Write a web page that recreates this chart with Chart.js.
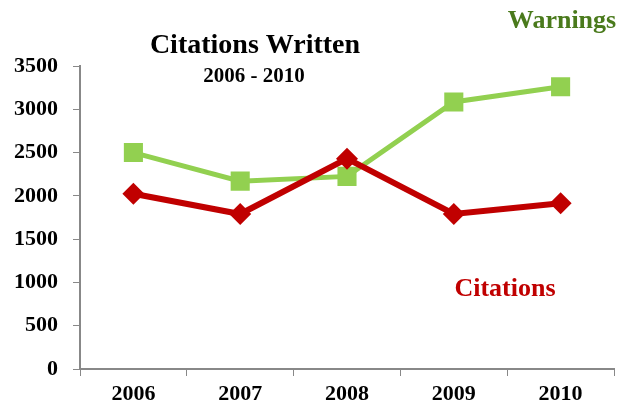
<!DOCTYPE html>
<html>
<head>
<meta charset="utf-8">
<script src="https://cdn.jsdelivr.net/npm/chart.js@4"></script>
<style>
  html, body { margin: 0; padding: 0; background: #fff; }
  #wrap { width: 617px; height: 414px; }
</style>
</head>
<body>
<div id="wrap"><canvas id="chart" width="617" height="414"></canvas></div>
<script>
// Data
const years = ['2006', '2007', '2008', '2009', '2010'];
const warnings = [2500, 2170, 2225, 3085, 3260];
const citations = [2025, 1790, 2430, 1790, 1915];

const FONT = '"Liberation Serif", "DejaVu Serif", serif';

// Free text labels (title, series names)
const labelsPlugin = {
    id: 'labels',
    afterDraw(chart) {
        const ctx = chart.ctx;
        ctx.save();
        ctx.textAlign = 'center';
        ctx.textBaseline = 'middle';
        ctx.fillStyle = '#000';
        ctx.font = 'bold 28px ' + FONT;
        ctx.fillText('Citations Written', 255, 46);
        ctx.font = 'bold 21px ' + FONT;
        ctx.fillText('2006 - 2010', 254, 77);
        ctx.fillStyle = '#4A7A1C';
        ctx.font = 'bold 26px ' + FONT;
        ctx.fillText('Warnings', 562, 21);
        ctx.fillStyle = '#C00000';
        ctx.fillText('Citations', 505, 289);
        ctx.restore();
    }
};

new Chart(document.getElementById('chart'), {
    type: 'line',
    data: {
        labels: years,
        datasets: [{
            label: 'Citations',
            data: citations,
            borderColor: '#C00000',
            backgroundColor: '#C00000',
            borderWidth: 6,
            pointStyle: 'rectRot',
            pointRadius: 11,
            pointBorderWidth: 0,
            tension: 0
        }, {
            label: 'Warnings',
            data: warnings,
            borderColor: '#92D050',
            backgroundColor: '#92D050',
            borderWidth: 5,
            pointStyle: 'rect',
            pointRadius: 13.5,
            pointBorderWidth: 0,
            tension: 0
        }]
    },
    options: {
        responsive: false,
        animation: false,
        layout: { autoPadding: false, padding: { top: 66, right: 3, left: 0, bottom: 0 } },
        plugins: {
            legend: { display: false },
            tooltip: { enabled: false }
        },
        scales: {
            x: {
                offset: true,
                grid: { display: true, offset: true, drawOnChartArea: false, drawTicks: true, tickLength: 7, color: '#888' },
                border: { color: '#888', width: 2 },
                ticks: { color: '#000', font: { family: FONT, size: 22, weight: 'bold' }, padding: 5 },
                afterFit(scale) {
                    scale.height = 45;
                    scale.paddingLeft = 0;
                    scale.paddingRight = 0;
                }
            },
            y: {
                min: 0,
                max: 3500,
                grid: { display: true, drawOnChartArea: false, drawTicks: true, tickLength: 7, color: '#888' },
                border: { color: '#888', width: 2 },
                ticks: {
                    stepSize: 500,
                    color: '#000',
                    font: { family: FONT, size: 22, weight: 'bold' },
                    padding: 15,
                    callback: v => String(v)
                },
                afterFit(scale) { scale.width = 80; }
            }
        }
    },
    plugins: [labelsPlugin]
});
</script>
</body>
</html>
